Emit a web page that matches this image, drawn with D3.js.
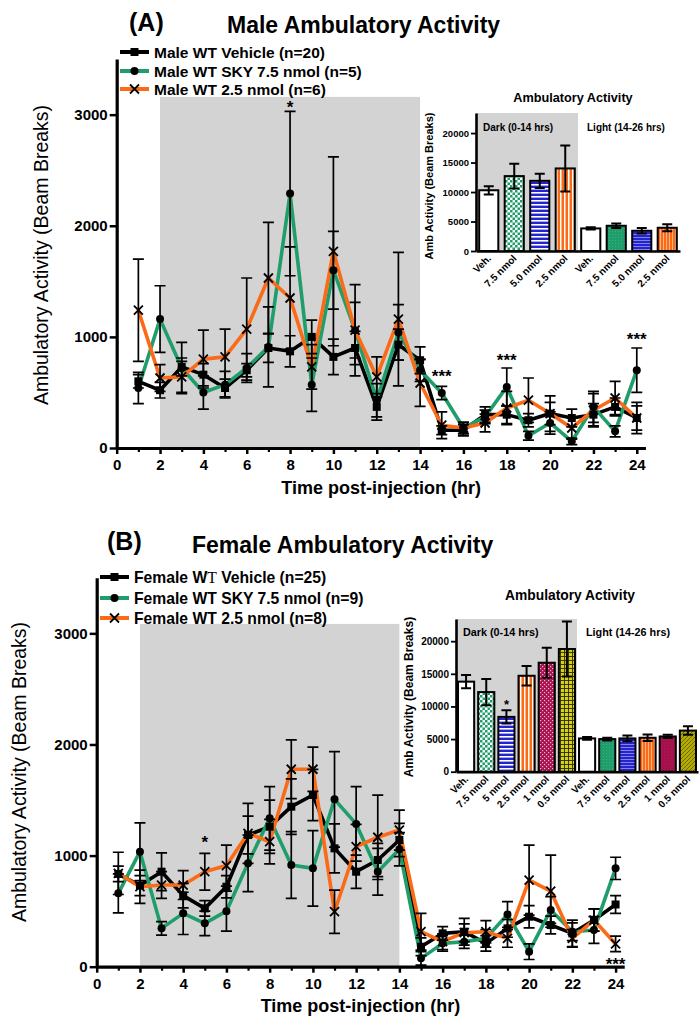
<!DOCTYPE html>
<html>
<head>
<meta charset="utf-8">
<script src="https://cdn.jsdelivr.net/npm/d3@7"></script>
<style>
  body { margin: 0; background: #fff; }
  svg { display: block; font-family: "Liberation Sans", Arial, sans-serif; }
</style>
</head>
<body>
<svg id="chart" width="699" height="1022"></svg>
<script>
// ---------- data ----------
const hours = [1, 2, 3, 4, 5, 6, 7, 8, 9, 10, 11, 12, 13, 14, 15, 16, 17, 18, 19, 20, 21, 22, 23, 24];
const xTicks = [0, 2, 4, 6, 8, 10, 12, 14, 16, 18, 20, 22, 24];
const xMinorTicks = [1, 3, 5, 7, 9, 11, 13, 15, 17, 19, 21, 23];
const yTicks = [0, 1000, 2000, 3000];
const insetYTicks = [0, 5000, 10000, 15000, 20000];

// Male, hourly ambulatory activity (mean, SEM)
const maleVehicle    = [600, 520, 730, 660, 540, 700, 900, 870, 1000, 820, 900, 370, 930, 790, 160, 160, 300, 300, 250, 310, 270, 300, 370, 270];
const maleVehicleSem = [60, 70, 80, 100, 80, 60, 130, 140, 150, 160, 150, 120, 140, 120, 40, 50, 70, 80, 60, 100, 80, 100, 80, 110];
const maleSky        = [540, 1160, 720, 500, 570, 720, 910, 2290, 570, 1600, 1060, 430, 1040, 700, 495, 180, 280, 550, 110, 225, 60, 370, 150, 700];
const maleSkySem     = [140, 300, 230, 150, 120, 130, 360, 740, 240, 350, 250, 150, 250, 100, 60, 50, 60, 170, 40, 100, 30, 140, 50, 200];
const male25         = [1240, 630, 640, 800, 820, 1070, 1530, 1350, 730, 1770, 1060, 640, 1160, 585, 205, 180, 225, 360, 430, 310, 180, 340, 450, 270];
const male25Sem      = [460, 120, 140, 260, 250, 460, 500, 460, 200, 850, 410, 180, 600, 210, 120, 50, 80, 150, 200, 160, 100, 150, 150, 140];

// Female, hourly ambulatory activity (mean, SEM)
const femaleVehicle    = [835, 730, 855, 640, 525, 720, 1185, 1260, 1440, 1545, 1065, 855, 960, 1140, 180, 300, 315, 210, 345, 450, 375, 300, 420, 560];
const femaleVehicleSem = [70, 90, 170, 110, 70, 100, 170, 240, 250, 230, 220, 150, 150, 150, 80, 60, 120, 70, 80, 100, 80, 120, 100, 80];
const femaleSky        = [660, 1035, 345, 480, 390, 500, 930, 1335, 915, 885, 1506, 1285, 855, 1057, 75, 210, 225, 255, 470, 135, 510, 315, 330, 885];
const femaleSkySem     = [175, 260, 60, 190, 110, 180, 255, 285, 300, 340, 430, 335, 210, 150, 60, 70, 60, 80, 115, 70, 120, 80, 120, 100];
const female25         = [840, 720, 735, 735, 855, 910, 1200, 1125, 1777, 1777, 495, 1080, 1165, 1230, 315, 225, 306, 315, 255, 780, 680, 255, 420, 205];
const female25Sem      = [190, 150, 120, 130, 165, 185, 270, 200, 265, 200, 195, 200, 380, 180, 165, 70, 80, 100, 80, 315, 325, 80, 100, 70];

// significance marks: hour, text, level (beam breaks)
const maleStars   = [{ hour: 8, label: "*", level: 3105 }, { hour: 15, label: "***", level: 684 }, { hour: 18, label: "***", level: 828 }, { hour: 24, label: "***", level: 1017 }];
const femaleStars = [{ hour: 5, label: "*", level: 1158 }, { hour: 24, label: "***", level: 60 }];

// Phase totals (inset bars)
const maleDoses     = ["Veh.", "7.5 nmol", "5.0 nmol", "2.5 nmol"];
const maleDark      = [10300, 12700, 11900, 14000];
const maleDarkSem   = [700, 2100, 1200, 3900];
const maleLight     = [3830, 4280, 3430, 3940];
const maleLightSem  = [200, 400, 450, 600];

const femaleDoses    = ["Veh.", "7.5 nmol", "5 nmol", "2.5 nmol", "1 nmol", "0.5 nmol"];
const femaleDark     = [13800, 12200, 8400, 14700, 16700, 18800];
const femaleDarkSem  = [1000, 2000, 1000, 1500, 2300, 4200];
const femaleLight    = [5100, 5000, 5100, 5200, 5400, 6300];
const femaleLightSem = [200, 200, 450, 500, 250, 650];
const femaleInsetStars = [{ index: 2, label: "*", level: 10800 }];

// ---------- styling ----------
const GREEN = "#1f9e6c", ORANGE = "#fb6a17", BLUE = "#2323cf", CRIMSON = "#a8124f", OLIVE = "#b2ad00";
const SHADE = "#d3d3d3";

const svg = d3.select("#chart");
svg.append("rect").attr("width", 699).attr("height", 1022).attr("fill", "#fff");

// ---------- fill patterns for the inset bars ----------
const defs = svg.append("defs");
function pattern(id, w, h, bg, build) {
  const p = defs.append("pattern").attr("id", id).attr("patternUnits", "userSpaceOnUse")
    .attr("width", w).attr("height", h);
  p.append("rect").attr("width", w).attr("height", h).attr("fill", bg);
  build(p);
}
pattern("chkGreen", 5, 5, "#fff", p => {
  p.append("rect").attr("width", 2.5).attr("height", 2.5).attr("fill", GREEN);
  p.append("rect").attr("x", 2.5).attr("y", 2.5).attr("width", 2.5).attr("height", 2.5).attr("fill", GREEN);
});
pattern("solidGreen", 3, 3, GREEN, p => {
  p.append("rect").attr("width", 1).attr("height", 1).attr("fill", "#3aae80");
});
pattern("hBlue", 4, 4, BLUE, p => {
  p.append("rect").attr("y", 0).attr("width", 4).attr("height", 1.6).attr("fill", "#fff");
});
pattern("hBlueFine", 3, 3, BLUE, p => {
  p.append("rect").attr("width", 3).attr("height", 0.8).attr("fill", "#9a9af0");
});
pattern("vOrange", 4, 4, ORANGE, p => {
  p.append("rect").attr("width", 1.5).attr("height", 4).attr("fill", "#fff");
});
pattern("vOrangeFine", 3, 3, ORANGE, p => {
  p.append("rect").attr("width", 0.8).attr("height", 3).attr("fill", "#ffc6a0");
});
pattern("chkCrimson", 4, 4, CRIMSON, p => {
  p.append("rect").attr("width", 1.2).attr("height", 1.2).attr("fill", "#f2b8cf");
  p.append("rect").attr("x", 2).attr("y", 2).attr("width", 1.2).attr("height", 1.2).attr("fill", "#f2b8cf");
});
pattern("solidCrimson", 3, 3, CRIMSON, p => {
  p.append("rect").attr("width", 1).attr("height", 1).attr("fill", "#901040");
});
pattern("gridOlive", 4, 4, "#d6cf1c", p => {
  p.append("rect").attr("width", 4).attr("height", 0.9).attr("fill", "#2a2a00");
  p.append("rect").attr("width", 0.9).attr("height", 4).attr("fill", "#2a2a00");
});
pattern("diagOlive", 4, 4, OLIVE, p => {
  p.append("path").attr("d", "M0,4L4,0").attr("stroke", "#5a5600").attr("stroke-width", 0.8);
});

// ---------- helpers ----------
function drawMarker(sel, type, cx, cy) {
  if (type === "square") {
    sel.append("rect").attr("x", cx - 4).attr("y", cy - 4).attr("width", 8).attr("height", 8).attr("fill", "#000");
  } else if (type === "circle") {
    sel.append("circle").attr("cx", cx).attr("cy", cy).attr("r", 4).attr("fill", "#000");
  } else {
    sel.append("path")
      .attr("d", `M${cx - 4.5},${cy - 4.5}L${cx + 4.5},${cy + 4.5}M${cx + 4.5},${cy - 4.5}L${cx - 4.5},${cy + 4.5}`)
      .attr("stroke", "#000").attr("stroke-width", 1.8).attr("fill", "none");
  }
}

function styleAxis(a, fontSize, domainWidth, tickWidth) {
  a.attr("font-family", null);
  a.select(".domain").attr("stroke", "#000").attr("stroke-width", domainWidth);
  a.selectAll(".tick line").attr("stroke", "#000").attr("stroke-width", tickWidth);
  a.selectAll(".tick text").attr("fill", "#000").attr("font-size", fontSize).attr("font-weight", "bold");
}

// ---------- hourly time-course panel ----------
function drawTimeCourse(cfg) {
  const g = svg.append("g");
  const x = d3.scaleLinear().domain([0, 24.4]).range([cfg.left, cfg.left + 24.4 * cfg.pxPerHour]);
  const y = d3.scaleLinear().domain([0, 3500]).range([cfg.bottom, cfg.bottom - 388.9]);

  // dark phase (2-14 h)
  g.append("rect").attr("x", x(2)).attr("width", x(14) - x(2))
    .attr("y", y(cfg.shadeTop)).attr("height", y(0) - y(cfg.shadeTop)).attr("fill", SHADE);

  const line = d3.line().x((d, i) => x(hours[i])).y(d => y(d));
  cfg.series.forEach(s => {
    g.append("path").datum(s.values).attr("fill", "none").attr("stroke", s.color)
      .attr("stroke-width", 3.6).attr("stroke-linejoin", "round").attr("d", line);
  });

  cfg.series.forEach(s => {
    s.values.forEach((v, i) => {
      const cx = x(hours[i]);
      const lo = y(Math.max(0, v - s.sem[i])), hi = y(v + s.sem[i]);
      g.append("path")
        .attr("d", `M${cx},${lo}V${hi}M${cx - 5.5},${hi}H${cx + 5.5}M${cx - 5.5},${lo}H${cx + 5.5}`)
        .attr("stroke", "#000").attr("stroke-width", 1.7).attr("fill", "none");
    });
  });

  cfg.series.forEach(s => {
    s.values.forEach((v, i) => drawMarker(g, s.marker, x(hours[i]), y(v)));
  });

  cfg.stars.forEach(st => {
    g.append("text").attr("x", x(st.hour)).attr("y", y(st.level) + 9.8)
      .attr("text-anchor", "middle").attr("font-size", 17).attr("font-weight", "bold").text(st.label);
  });

  // axes
  const ya = g.append("g").attr("transform", `translate(${x(0)},0)`)
    .call(d3.axisLeft(y).tickValues(yTicks).tickSize(7).tickPadding(2).tickSizeOuter(0).tickFormat(d3.format("d")));
  styleAxis(ya, 15, 3.2, 2.5);

  const xm = g.append("g").attr("transform", `translate(0,${y(0)})`)
    .call(d3.axisBottom(x).tickValues(xMinorTicks).tickSize(4).tickFormat(""));
  xm.select(".domain").remove();
  xm.selectAll(".tick line").attr("stroke", "#000").attr("stroke-width", 2.2);

  const xa = g.append("g").attr("transform", `translate(0,${y(0)})`)
    .call(d3.axisBottom(x).tickValues(xTicks).tickSize(6).tickPadding(5.5).tickSizeOuter(0).tickFormat(d3.format("d")));
  styleAxis(xa, 15, 3.2, 2.5);

  // axis titles
  g.append("text").attr("x", (x(0) + x(24.4)) / 2).attr("y", y(0) + cfg.xTitleOffset)
    .attr("text-anchor", "middle").attr("font-size", 18).attr("font-weight", "bold")
    .text("Time post-injection (hr)");
  g.append("text").attr("transform", `translate(${cfg.yTitleX},${cfg.yTitleY}) rotate(-90)`)
    .attr("text-anchor", "middle").attr("font-size", 19.5)
    .text("Ambulatory Activity (Beam Breaks)");

  // panel letter and title
  g.append("text").attr("x", cfg.letterX).attr("y", cfg.letterY).attr("font-size", 25).attr("font-weight", "bold").text(cfg.letter);
  g.append("text").attr("x", cfg.titleX).attr("y", cfg.titleY).attr("font-size", 23).attr("font-weight", "bold").text(cfg.title);

  // legend
  cfg.series.forEach((s, i) => {
    const ly = cfg.legendY[i];
    g.append("line").attr("x1", cfg.legendX).attr("x2", cfg.legendX + 29).attr("y1", ly).attr("y2", ly)
      .attr("stroke", s.color).attr("stroke-width", 4);
    drawMarker(g, s.marker, cfg.legendX + 14.5, ly);
    const t = g.append("text").attr("x", cfg.legendX + 34).attr("y", ly + 5.5)
      .attr("font-size", cfg.legendFont).attr("font-weight", "bold");
    if (s.serifT) {
      t.append("tspan").text(s.label[0]);
      t.append("tspan").attr("font-family", "Liberation Serif, serif").attr("font-weight", "normal").text("T");
      t.append("tspan").text(s.label[1]);
    } else {
      t.text(s.label);
    }
  });
}

// ---------- dark/light totals inset ----------
function drawInset(cfg) {
  const g = svg.append("g");
  const labels = cfg.doses.concat(cfg.doses);
  const values = cfg.dark.concat(cfg.light);
  const sems = cfg.darkSem.concat(cfg.lightSem);
  const fills = cfg.darkFills.concat(cfg.lightFills);
  const n = labels.length;

  const xb = d3.scaleBand().domain(d3.range(n)).range([cfg.left, cfg.right])
    .paddingInner(cfg.pad).paddingOuter(cfg.pad / 2);
  const y = d3.scaleLinear().domain([0, 23400]).range([cfg.bottom, cfg.top]);

  g.append("rect").attr("x", cfg.left).attr("y", y(23400))
    .attr("width", xb.step() * n / 2).attr("height", y(0) - y(23400)).attr("fill", SHADE);

  g.selectAll("rect.bar").data(values).join("rect").attr("class", "bar")
    .attr("x", (d, i) => xb(i)).attr("width", xb.bandwidth())
    .attr("y", d => y(d)).attr("height", d => y(0) - y(d))
    .attr("fill", (d, i) => fills[i]).attr("stroke", "#000").attr("stroke-width", 2);

  values.forEach((v, i) => {
    const cx = xb(i) + xb.bandwidth() / 2;
    const lo = y(v - sems[i]), hi = y(v + sems[i]);
    g.append("path")
      .attr("d", `M${cx},${lo}V${hi}M${cx - 5},${hi}H${cx + 5}M${cx - 5},${lo}H${cx + 5}`)
      .attr("stroke", "#000").attr("stroke-width", 2).attr("fill", "none");
  });

  (cfg.stars || []).forEach(st => {
    g.append("text").attr("x", xb(st.index) + xb.bandwidth() / 2).attr("y", y(st.level) + 0.575 * 13)
      .attr("text-anchor", "middle").attr("font-size", 13).attr("font-weight", "bold").text(st.label);
  });

  const ya = g.append("g").attr("transform", `translate(${cfg.left},0)`)
    .call(d3.axisLeft(y).tickValues(insetYTicks).tickSize(5).tickPadding(2).tickSizeOuter(0).tickFormat(d3.format("d")));
  styleAxis(ya, cfg.tickFont, 2.6, 1.8);

  const xa = g.append("g").attr("transform", `translate(0,${cfg.bottom})`)
    .call(d3.axisBottom(xb).tickSize(0).tickSizeOuter(0).tickFormat(i => labels[i]));
  styleAxis(xa, cfg.labelFont, 2.6, 1.8);
  xa.selectAll(".tick text").attr("x", 0).attr("y", 0).attr("dy", null)
    .attr("text-anchor", "end").attr("transform", "translate(3,8) rotate(-45)");

  g.append("text").attr("x", cfg.titleX).attr("y", cfg.titleY).attr("text-anchor", "middle")
    .attr("font-size", cfg.titleFont).attr("font-weight", "bold").text("Ambulatory Activity");
  g.append("text").attr("x", cfg.left + 7).attr("y", cfg.phaseY).attr("font-size", cfg.phaseFont)
    .attr("font-weight", "bold").text("Dark (0-14 hrs)");
  g.append("text").attr("x", cfg.left + xb.step() * n / 2 + 9).attr("y", cfg.phaseY).attr("font-size", cfg.phaseFont)
    .attr("font-weight", "bold").text("Light (14-26 hrs)");
  g.append("text").attr("transform", `translate(${cfg.yTitleX},${cfg.yTitleY}) rotate(-90)`)
    .attr("text-anchor", "middle").attr("font-size", cfg.yTitleFont).attr("font-weight", "bold")
    .text("Amb Activity (Beam Breaks)");
}

// ---------- panel A: males ----------
drawTimeCourse({
  left: 116.7, pxPerHour: 21.67, bottom: 448, shadeTop: 3160,
  xTitleOffset: 46, yTitleX: 48, yTitleY: 255,
  letter: "(A)", letterX: 129, letterY: 31,
  title: "Male Ambulatory Activity", titleX: 227, titleY: 33,
  legendX: 120, legendY: [52, 71, 89], legendFont: 15.5,
  stars: maleStars,
  series: [
    { label: "Male WT Vehicle (n=20)", values: maleVehicle, sem: maleVehicleSem, color: "#000", marker: "square" },
    { label: "Male WT SKY 7.5 nmol (n=5)", values: maleSky, sem: maleSkySem, color: GREEN, marker: "circle" },
    { label: "Male WT 2.5 nmol (n=6)", values: male25, sem: male25Sem, color: ORANGE, marker: "x" }
  ]
});

drawInset({
  left: 476, right: 680, bottom: 251, top: 113, pad: 0.25,
  doses: maleDoses, dark: maleDark, darkSem: maleDarkSem, light: maleLight, lightSem: maleLightSem,
  darkFills: ["#fff", "url(#chkGreen)", "url(#hBlue)", "url(#vOrange)"],
  lightFills: ["#fff", "url(#solidGreen)", "url(#hBlueFine)", "url(#vOrangeFine)"],
  tickFont: 9.5, labelFont: 10,
  titleX: 573, titleY: 101.5, titleFont: 12.7,
  phaseY: 131, phaseFont: 10,
  yTitleX: 433, yTitleY: 186, yTitleFont: 11
});

// ---------- panel B: females ----------
drawTimeCourse({
  left: 96.7, pxPerHour: 21.62, bottom: 966.7, shadeTop: 3085,
  xTitleOffset: 45.5, yTitleX: 26, yTitleY: 772,
  letter: "(B)", letterX: 107, letterY: 550,
  title: "Female Ambulatory Activity", titleX: 192, titleY: 553,
  legendX: 100, legendY: [577, 598, 618], legendFont: 15.7,
  stars: femaleStars,
  series: [
    { label: ["Female W", " Vehicle (n=25)"], serifT: true, values: femaleVehicle, sem: femaleVehicleSem, color: "#000", marker: "square" },
    { label: "Female WT SKY 7.5 nmol (n=9)", values: femaleSky, sem: femaleSkySem, color: GREEN, marker: "circle" },
    { label: "Female WT 2.5 nmol (n=8)", values: female25, sem: female25Sem, color: ORANGE, marker: "x" }
  ]
});

drawInset({
  left: 456, right: 698, bottom: 771.7, top: 619, pad: 0.2,
  doses: femaleDoses, dark: femaleDark, darkSem: femaleDarkSem, light: femaleLight, lightSem: femaleLightSem,
  darkFills: ["#fff", "url(#chkGreen)", "url(#hBlue)", "url(#vOrange)", "url(#chkCrimson)", "url(#gridOlive)"],
  lightFills: ["#fff", "url(#solidGreen)", "url(#hBlueFine)", "url(#vOrangeFine)", "url(#solidCrimson)", "url(#diagOlive)"],
  stars: femaleInsetStars,
  tickFont: 10, labelFont: 10,
  titleX: 570, titleY: 600, titleFont: 13.8,
  phaseY: 636, phaseFont: 10.8,
  yTitleX: 413, yTitleY: 697, yTitleFont: 12
});
</script>
</body>
</html>
